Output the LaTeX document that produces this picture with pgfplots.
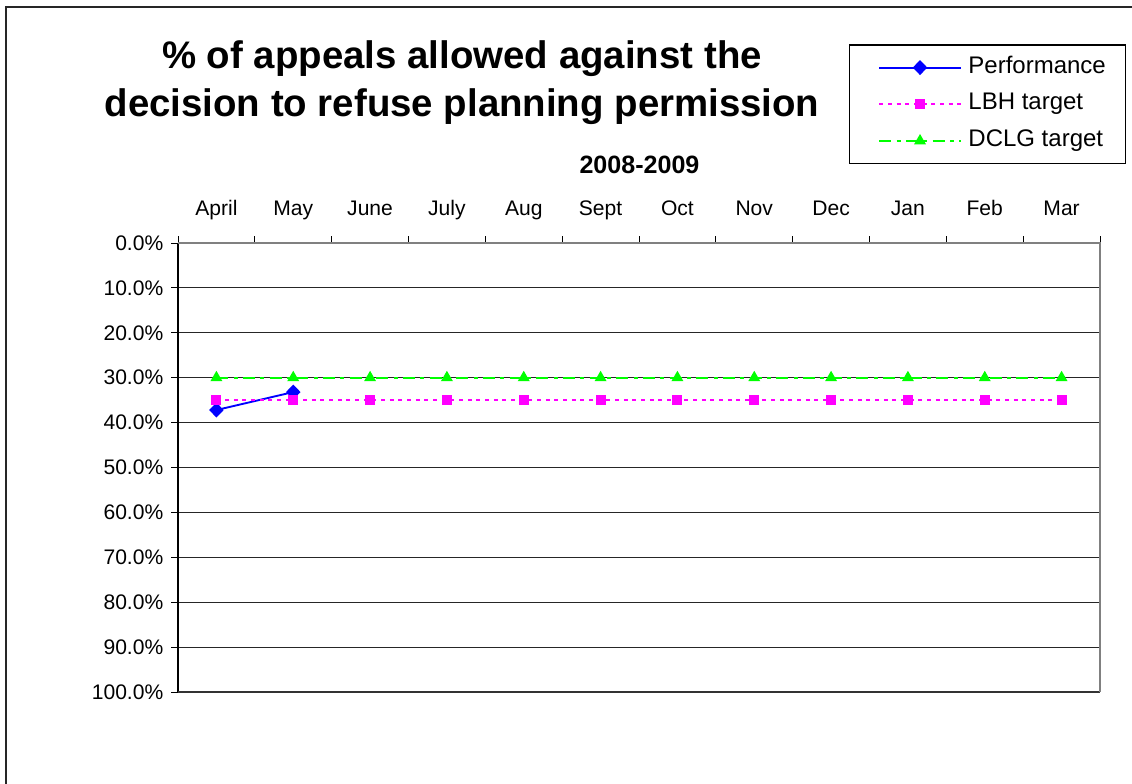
\documentclass[border=0pt]{standalone}
\usepackage{pgfplots}
\pgfplotsset{compat=1.18}
\usepackage{fontspec}
\setmainfont{Liberation Sans}
\definecolor{perf}{RGB}{0,0,255}
\definecolor{lbh}{RGB}{255,0,255}
\definecolor{dclg}{RGB}{0,255,0}
\begin{document}
\begin{tikzpicture}
% page 1132x783 px, 1px = 0.75pt
\useasboundingbox (0,0) rectangle (849pt,587.25pt);
\draw[line width=1pt,black!85] (4.5pt,-10pt) -- (4.5pt,582pt) -- (860pt,582pt);
% titles
\node[anchor=base,font=\bfseries\fontsize{28.8}{34}\selectfont] at (346.5pt,535.5pt) {\% of appeals allowed against the};
\node[anchor=base,font=\bfseries\fontsize{28.8}{34}\selectfont] at (346.5pt,500pt) {decision to refuse planning permission};
\node[anchor=base,font=\bfseries\fontsize{18.8}{22}\selectfont] at (479.6pt,456.75pt) {2008-2009};
% legend frame
\draw[line width=0.9pt] (637pt,464.8pt) rectangle (844.3pt,553.5pt);
\begin{axis}[
  at={(133.5pt,68.25pt)}, anchor=south west,
  scale only axis, width=691.5pt, height=336.75pt,
  xmin=-0.5, xmax=11.5, ymin=0, ymax=100,
  y dir=reverse,
  axis line style={draw=none},
  tick align=outside,
  major tick length=5pt,
  xtick={-0.5,0.5,...,11.5}, xticklabels={,,,,,,,,,,,,},
  xtick pos=right, xticklabel pos=right,
  extra x ticks={0,...,11},
  extra x tick labels={April,May,June,July,Aug,Sept,Oct,Nov,Dec,Jan,Feb,Mar},
  extra x tick style={major tick length=0pt, tick style={draw=none}},
  xticklabel style={yshift=13.5pt, text height=11.5pt, text depth=3.5pt},
  ytick={0,10,...,100},
  yticklabels={0.0\%,10.0\%,20.0\%,30.0\%,40.0\%,50.0\%,60.0\%,70.0\%,80.0\%,90.0\%,100.0\%},
  ytick pos=left,
  yticklabel style={xshift=-2.5pt},
  ymajorgrids, grid style={black!85, line width=0.75pt},
  tick style={black, line width=0.75pt},
  ticklabel style={font=\fontsize{15.8}{18}\selectfont},
  clip=false,
  legend style={draw=none, fill=none, at={(0.7549,1.4232)}, anchor=north west,
    font=\fontsize{18}{21}\selectfont, row sep=10pt,
    nodes={inner sep=1pt, text height=12pt, text depth=3.5pt},
    /tikz/every odd column/.append style={column sep=4pt}},
  legend cell align=left,
  legend image code/.code={\draw[mark repeat=2,mark phase=2,#1] plot coordinates {(0pt,0pt) (30.5pt,0pt) (61pt,0pt)};},
]
\addplot[color=perf, draw=perf, line width=1.4pt, mark=diamond*, mark size=4.6pt, mark options={solid, fill=perf, xscale=1.3}]
  coordinates {(0,37.2) (1,33.2)};
\addlegendentry{Performance}
\addplot[color=lbh, line width=1.6pt, dash pattern=on 3pt off 3.5pt, mark=square*, mark size=3pt, mark options={solid}]
  coordinates {(0,35) (1,35) (2,35) (3,35) (4,35) (5,35) (6,35) (7,35) (8,35) (9,35) (10,35) (11,35)};
\addlegendentry{LBH target}
\addplot[color=dclg, line width=1.5pt, dash pattern=on 9pt off 4pt on 3pt off 4pt, mark=triangle*, mark size=3.7pt, mark options={solid}]
  coordinates {(0,30) (1,30) (2,30) (3,30) (4,30) (5,30) (6,30) (7,30) (8,30) (9,30) (10,30) (11,30)};
\addlegendentry{DCLG target}
% plot area frame
\draw[black, line width=1.1pt] (rel axis cs:0,1) -- (rel axis cs:0,0);
\draw[black!80, line width=1pt] (rel axis cs:0,0) -- (rel axis cs:1,0);
\draw[gray, line width=1.6pt] (rel axis cs:1,0) -- (rel axis cs:1,1) -- (rel axis cs:0,1);
\end{axis}
\end{tikzpicture}
\end{document}
